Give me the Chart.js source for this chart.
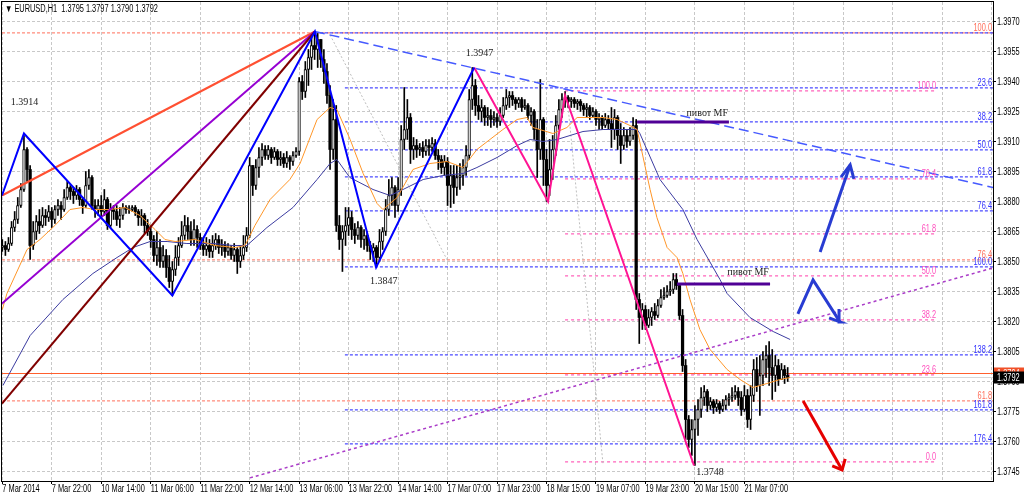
<!DOCTYPE html>
<html>
<head>
<meta charset="utf-8">
<script src="https://cdn.jsdelivr.net/npm/chart.js@4.4.1/dist/chart.umd.min.js"></script>
<style>
  html, body { margin: 0; padding: 0; background: #fff; }
  #wrap { width: 1024px; height: 495px; }
</style>
</head>
<body>
<div id="wrap"><canvas id="chart1" width="1024" height="495"></canvas></div>
<script>
// EURUSD H1, one entry per bar (bar 0 = 7 Mar 2014 06:00)
var firstOpen = 1.3857;
var closes = [
  1.3858,1.3856,1.3859,1.3867,1.3871,1.3878,1.3886,1.3906,1.3896,1.3858,
  1.3865,1.3870,1.3868,1.3873,1.3872,1.3875,1.3871,1.3876,1.3878,1.3876,
  1.3882,1.3887,1.3885,1.3883,1.3886,1.3881,1.3878,1.3888,1.3892,1.3878,
  1.3876,1.3878,1.3875,1.3881,1.3868,1.3876,1.3875,1.3871,1.3873,1.3877,
  1.3876,1.3876,1.3877,1.3875,1.3872,1.3873,1.3868,1.3865,1.3861,1.3853,
  1.3857,1.3850,1.3853,1.3847,1.3840,1.3846,1.3852,1.3858,1.3863,1.3868,
  1.3865,1.3861,1.3866,1.3862,1.3858,1.3856,1.3858,1.3855,1.3858,1.3861,
  1.3857,1.3858,1.3855,1.3857,1.3853,1.3856,1.3850,1.3853,1.3857,1.3863,
  1.3898,1.3888,1.3897,1.3902,1.3906,1.3903,1.3906,1.3902,1.3905,1.3901,
  1.3902,1.3899,1.3902,1.3900,1.3903,1.3905,1.3940,1.3935,1.3946,1.3952,
  1.3958,1.3956,1.3961,1.3951,1.3945,1.3933,1.3906,1.3921,1.3868,1.3861,
  1.3865,1.3868,1.3872,1.3866,1.3863,1.3867,1.3861,1.3863,1.3858,1.3855,
  1.3857,1.3852,1.3860,1.3865,1.3876,1.3883,1.3887,1.3878,1.3886,1.3911,
  1.3916,1.3922,1.3906,1.3908,1.3906,1.3907,1.3905,1.3908,1.3907,1.3909,
  1.3903,1.3901,1.3897,1.3900,1.3888,1.3893,1.3887,1.3892,1.3893,1.3897,
  1.3903,1.3931,1.3938,1.3928,1.3925,1.3927,1.3922,1.3923,1.3921,1.3922,
  1.3920,1.3923,1.3928,1.3932,1.3933,1.3931,1.3929,1.3931,1.3927,1.3928,
  1.3923,1.3925,1.3916,1.3906,1.3921,1.3901,1.3888,1.3896,1.3906,1.3918,
  1.3926,1.3931,1.3932,1.3930,1.3931,1.3929,1.3930,1.3928,1.3926,1.3927,
  1.3923,1.3925,1.3921,1.3922,1.3918,1.3921,1.3919,1.3916,1.3922,1.3913,
  1.3908,1.3913,1.3910,1.3913,1.3918,1.3831,1.3822,1.3826,1.3818,1.3822,
  1.3825,1.3823,1.3828,1.3832,1.3833,1.3835,1.3836,1.3841,1.3838,1.3823,
  1.3798,1.3771,1.3761,1.3766,1.3771,1.3776,1.3782,1.3785,1.3778,1.3780,
  1.3777,1.3779,1.3776,1.3778,1.3781,1.3782,1.3783,1.3785,1.3782,1.3776,
  1.3783,1.3771,1.3783,1.3796,1.3788,1.3793,1.3801,1.3803,1.3797,1.3793,
  1.3798,1.3791,1.3796,1.3793,1.3792
];
var highs = [
  1.3861,1.3860,1.3862,1.3870,1.3875,1.3882,1.3889,1.3913,1.3907,1.3898,
  1.3870,1.3873,1.3876,1.3877,1.3876,1.3878,1.3877,1.3878,1.3881,1.3880,
  1.3886,1.3890,1.3888,1.3887,1.3888,1.3887,1.3882,1.3895,1.3896,1.3893,
  1.3881,1.3881,1.3883,1.3886,1.3882,1.3879,1.3878,1.3878,1.3877,1.3879,
  1.3878,1.3878,1.3878,1.3878,1.3876,1.3876,1.3874,1.3871,1.3868,1.3863,
  1.3865,1.3861,1.3858,1.3856,1.3853,1.3850,1.3858,1.3862,1.3870,1.3873,
  1.3872,1.3870,1.3871,1.3868,1.3864,1.3862,1.3862,1.3861,1.3863,1.3864,
  1.3863,1.3861,1.3860,1.3859,1.3858,1.3859,1.3857,1.3858,1.3863,1.3867,
  1.3902,1.3897,1.3901,1.3907,1.3909,1.3908,1.3908,1.3907,1.3907,1.3906,
  1.3905,1.3904,1.3905,1.3903,1.3905,1.3907,1.3942,1.3943,1.3950,1.3956,
  1.3962,1.3965,1.3964,1.3958,1.3956,1.3949,1.3938,1.3931,1.3928,1.3873,
  1.3868,1.3877,1.3877,1.3875,1.3869,1.3870,1.3868,1.3866,1.3865,1.3860,
  1.3859,1.3858,1.3866,1.3867,1.3881,1.3891,1.3892,1.3888,1.3892,1.3918,
  1.3937,1.3931,1.3924,1.3912,1.3911,1.3909,1.3910,1.3911,1.3911,1.3912,
  1.3911,1.3906,1.3903,1.3903,1.3902,1.3898,1.3898,1.3898,1.3899,1.3901,
  1.3908,1.3936,1.3947,1.3941,1.3933,1.3931,1.3928,1.3927,1.3926,1.3925,
  1.3924,1.3927,1.3932,1.3936,1.3935,1.3935,1.3932,1.3932,1.3932,1.3931,
  1.3929,1.3927,1.3926,1.3921,1.3941,1.3922,1.3906,1.3911,1.3913,1.3923,
  1.3931,1.3934,1.3935,1.3933,1.3932,1.3932,1.3931,1.3931,1.3929,1.3929,
  1.3928,1.3927,1.3926,1.3924,1.3923,1.3924,1.3923,1.3927,1.3926,1.3923,
  1.3919,1.3917,1.3916,1.3917,1.3922,1.3921,1.3834,1.3829,1.3828,1.3826,
  1.3827,1.3829,1.3831,1.3836,1.3837,1.3838,1.3840,1.3844,1.3844,1.3838,
  1.3826,1.3801,1.3773,1.3771,1.3778,1.3781,1.3787,1.3788,1.3786,1.3782,
  1.3781,1.3781,1.3780,1.3781,1.3783,1.3784,1.3787,1.3788,1.3787,1.3785,
  1.3788,1.3786,1.3788,1.3801,1.3802,1.3803,1.3805,1.3808,1.3810,1.3806,
  1.3803,1.3801,1.3799,1.3798,1.3797
];
var lows = [
  1.3855,1.3853,1.3855,1.3858,1.3865,1.3869,1.3877,1.3885,1.3890,1.3851,
  1.3856,1.3861,1.3864,1.3867,1.3868,1.3870,1.3867,1.3869,1.3873,1.3871,
  1.3875,1.3881,1.3881,1.3879,1.3881,1.3878,1.3874,1.3877,1.3886,1.3876,
  1.3872,1.3873,1.3872,1.3873,1.3866,1.3867,1.3871,1.3868,1.3867,1.3871,
  1.3874,1.3874,1.3875,1.3873,1.3868,1.3868,1.3864,1.3863,1.3857,1.3850,
  1.3848,1.3847,1.3847,1.3842,1.3837,1.3833,1.3843,1.3848,1.3857,1.3861,
  1.3861,1.3858,1.3858,1.3857,1.3856,1.3853,1.3853,1.3852,1.3852,1.3856,
  1.3854,1.3853,1.3852,1.3853,1.3851,1.3850,1.3844,1.3847,1.3851,1.3855,
  1.3862,1.3883,1.3886,1.3892,1.3898,1.3901,1.3901,1.3899,1.3901,1.3898,
  1.3898,1.3897,1.3897,1.3896,1.3898,1.3902,1.3903,1.3931,1.3932,1.3938,
  1.3946,1.3951,1.3947,1.3947,1.3939,1.3929,1.3896,1.3901,1.3865,1.3856,
  1.3845,1.3858,1.3863,1.3861,1.3859,1.3861,1.3857,1.3856,1.3855,1.3851,
  1.3850,1.3848,1.3850,1.3856,1.3863,1.3873,1.3878,1.3872,1.3875,1.3883,
  1.3906,1.3911,1.3899,1.3901,1.3902,1.3903,1.3902,1.3903,1.3903,1.3905,
  1.3901,1.3896,1.3894,1.3893,1.3878,1.3877,1.3879,1.3883,1.3886,1.3888,
  1.3893,1.3901,1.3926,1.3923,1.3921,1.3920,1.3918,1.3918,1.3917,1.3918,
  1.3917,1.3918,1.3922,1.3926,1.3927,1.3928,1.3926,1.3927,1.3925,1.3926,
  1.3921,1.3918,1.3911,1.3892,1.3901,1.3888,1.3880,1.3883,1.3891,1.3903,
  1.3916,1.3922,1.3927,1.3927,1.3927,1.3927,1.3926,1.3925,1.3923,1.3922,
  1.3921,1.3922,1.3918,1.3916,1.3916,1.3917,1.3916,1.3907,1.3911,1.3906,
  1.3899,1.3906,1.3907,1.3908,1.3911,1.3826,1.3809,1.3816,1.3816,1.3817,
  1.3818,1.3821,1.3822,1.3827,1.3831,1.3832,1.3833,1.3834,1.3836,1.3821,
  1.3795,1.3761,1.3757,1.3753,1.3748,1.3763,1.3772,1.3778,1.3775,1.3776,
  1.3774,1.3775,1.3774,1.3775,1.3776,1.3778,1.3780,1.3781,1.3778,1.3773,
  1.3775,1.3767,1.3766,1.3780,1.3785,1.3773,1.3788,1.3792,1.3788,1.3781,
  1.3785,1.3788,1.3791,1.3789,1.3790
];

// moving averages: [bar, price]
var maFast = [
  [0,1.3826],[1.5,1.3834],[8,1.3856],[12.2,1.3861],[17,1.3868],[21.9,1.3876],[26.1,1.3877],
  [30,1.3876],[34.8,1.3876],[39.7,1.3877],[44.5,1.3873],[49.4,1.3866],[52.6,1.3861],
  [55.9,1.3860],[62.3,1.3861],[68.8,1.3858],[75.3,1.3857],[78.5,1.3858],[81.7,1.3868],
  [86.6,1.3881],[93,1.3891],[96.3,1.3899],[101.8,1.3921],[106,1.3927],[108.2,1.3926],
  [112.5,1.3911],[116.7,1.3894],[121.2,1.3879],[123.1,1.3876],[127.7,1.3882],[132.8,1.3896],
  [138.3,1.3899],[143.8,1.3900],[149,1.3897],[153.5,1.3906],[157.7,1.3911],[161.9,1.3916],
  [166.5,1.3921],[169.7,1.3922],[171.6,1.3917],[178.1,1.3914],[182.6,1.3917],[185.9,1.3922],
  [190.1,1.3922],[194.3,1.3922],[198.8,1.3921],[203,1.3918],[205.3,1.3916],[209.5,1.3886],
  [211.7,1.3872],[215,1.3857],[218.2,1.3852],[220.1,1.3844],[222.4,1.3831],[225.6,1.3816],
  [228.9,1.3806],[234.4,1.3796],[238.6,1.3791],[242.8,1.3787],[247.3,1.3789],[251.5,1.3791],
  [254.8,1.3792]
];
var maSlow = [
  [0.2,1.3788],[9,1.3813],[19.6,1.3831],[29.3,1.3844],[37.1,1.3852],[42.3,1.3857],
  [47.8,1.3860],[53.3,1.3860],[59.7,1.3859],[68.1,1.3859],[74.6,1.3858],[79.1,1.3858],
  [85.6,1.3867],[94,1.3877],[101.8,1.3891],[106,1.3899],[108.2,1.3901],[112.4,1.3892],
  [119.9,1.3886],[125.4,1.3883],[129.6,1.3886],[136.1,1.3891],[142.5,1.3893],[149,1.3894],
  [153.5,1.3897],[160,1.3902],[166.5,1.3908],[170.7,1.3911],[174.9,1.3910],[179.4,1.3911],
  [183.6,1.3913],[187.8,1.3915],[194.3,1.3916],[200.7,1.3916],[205.3,1.3916],[206.2,1.3914],
  [212.7,1.3891],[220.1,1.3876],[224.7,1.3861],[232.1,1.3841],[234.4,1.3834],[241.8,1.3822],
  [249.3,1.3815],[254.8,1.3811]
];

// zigzags and fan lines: [bar, price]
var zigzagBlue = [[-0.1,1.3883],[7,1.3914],[55,1.3833],[101.1,1.3965],[120.9,1.3847],[152.6,1.3947]];
var zigzagPink = [[152.6,1.3947],[176.5,1.3880],[182,1.3933],[223.7,1.3748]];
var fanRed = [[-0.1,1.3883],[101.1,1.3965]];
var fanPurple = [[-0.1,1.3829],[101.1,1.3965]];
var fanBrown = [[-0.1,1.3779],[101.1,1.3965]];
var trendDown = [[101.1,1.3965],[320.4,1.3887]];
var trendUp = [[80.1,1.37418],[320.4,1.38468]];
var timeLine1 = [[106,1.39633],[144.2,1.38498]];
var timeLine2 = [[182.6,1.39333],[194.3,1.37483]];

// fibonacci levels
var fibRedLevels = ['100.0','76.4','61.8'];
var fibRedPrices = [1.39643,1.38508,1.37803];
var fibBlueLevels = ['0.0','23.6','38.2','50.0','61.8','76.4','100.0','138.2','161.8','176.4'];
var fibBluePrices = [1.39643,1.39368,1.39198,1.39058,1.38923,1.38753,1.38473,1.38033,1.37758,1.37588];
var fibBlueFrom = [101.1,110.8,110.8,110.8,110.8,110.8,110.8,110.8,110.8,110.8];
var fibPinkLevels = ['100.0','76.4','61.8','50.0','38.2','23.6','0.0'];
var fibPinkPrices = [1.39353,1.38913,1.38638,1.38428,1.38208,1.37933,1.37498];

var pivot1 = [[205.3,1.39198],[235,1.39198]];
var pivot2 = [[218.2,1.38388],[248.3,1.38388]];

// hand drawn arrows
var arrowUpShaft = [[264.5,1.38548],[274.2,1.38983]];
var arrowUpHead = [[271.3,1.38923],[274.2,1.38983],[275.4,1.38913]];
var arrowZig = [[257.3,1.38238],[262.2,1.38408],[270.9,1.38198]];
var arrowZigHead = [[267.4,1.38218],[270.9,1.38198],[270.6,1.38263]];
var arrowDownShaft = [[259,1.37803],[271.6,1.37458]];
var arrowDownHead = [[268.4,1.37478],[271.6,1.37458],[272.6,1.37513]];

var levelAlert = 1.3794;
var bid = 1.3792;

var notes = [
  {text: '1.3914', bar: 7.2, price: 1.39298},
  {text: '1.3947', bar: 154.3, price: 1.39543},
  {text: '1.3847', bar: 123.4, price: 1.38403},
  {text: '1.3748', bar: 228.9, price: 1.37448},
  {text: 'пивот MF', bar: 228, price: 1.39243},
  {text: 'пивот MF', bar: 241.2, price: 1.38448}
];

var xTickBars = [0,16,32,48,64,80,96,112,128,144,160,176,192,208,224,240,256,272,288,304,320];
var xTickLabels = ['7 Mar 2014','7 Mar 22:00','10 Mar 14:00','11 Mar 06:00','11 Mar 22:00',
  '12 Mar 14:00','13 Mar 06:00','13 Mar 22:00','14 Mar 14:00','17 Mar 07:00','17 Mar 23:00',
  '18 Mar 15:00','19 Mar 07:00','19 Mar 23:00','20 Mar 15:00','21 Mar 07:00'];
var yTicks = [1.3745,1.3760,1.3775,1.3790,1.3805,1.3820,1.3835,1.3850,1.3865,1.3880,
  1.3895,1.3910,1.3925,1.3940,1.3955,1.3970];

var header = '\u25BC EURUSD,H1  1.3795 1.3797 1.3790 1.3792';

var uiFont = "10px 'Liberation Sans', Arial, sans-serif";
var squeeze = 0.74;

function pts(arr) {
  return arr.map(function(p) { return {x: p[0], y: p[1]}; });
}

function lineDs(arr, color, width, dash, order) {
  return {
    type: 'line',
    data: pts(arr),
    borderColor: color,
    borderWidth: width,
    borderDash: dash || [],
    pointRadius: 0,
    fill: false,
    tension: 0,
    clip: 0,
    order: order
  };
}

// narrow terminal-style text
function narrowText(ctx, text, x, y, align) {
  ctx.save();
  ctx.translate(x, y);
  ctx.scale(squeeze, 1);
  ctx.textAlign = align;
  ctx.fillText(text, 0, 0);
  ctx.restore();
}

// candles
var wicks = [], bulls = [], bears = [];
for (var i = 0; i < closes.length; i++) {
  var o = i == 0 ? firstOpen : closes[i - 1];
  var c = closes[i];
  wicks.push({x: i, y: [Math.min(lows[i], o, c), Math.max(highs[i], o, c)]});
  if (c >= o) bulls.push({x: i, y: [o, c]});
  else bears.push({x: i, y: [c, o]});
}

var datasets = [];

fibRedPrices.forEach(function(p) {
  datasets.push(lineDs([[-0.1, p], [320.4, p]], 'rgb(255,110,90)', 1, [3, 2], 60));
});
fibBluePrices.forEach(function(p, k) {
  datasets.push(lineDs([[fibBlueFrom[k], p], [320.4, p]], 'rgb(30,30,255)', 1, [3, 2], 58));
});
fibPinkPrices.forEach(function(p) {
  datasets.push(lineDs([[182, p], [302.3, p]], 'rgb(255,60,170)', 1, [3, 3], 58));
});
datasets.push(lineDs([[-0.1, levelAlert], [320.4, levelAlert]], 'rgb(255,95,45)', 1, [], 56));
datasets.push(lineDs([[-0.1, bid], [320.4, bid]], 'rgb(215,215,215)', 1, [], 57));
datasets.push(lineDs(timeLine1, 'rgb(190,190,190)', 1, [2, 2], 56));
datasets.push(lineDs(timeLine2, 'rgb(190,190,190)', 1, [2, 2], 56));

datasets.push({type: 'bar', data: wicks, backgroundColor: '#000', borderWidth: 0,
  barThickness: 1, grouped: false, order: 50});
datasets.push({type: 'bar', data: bulls, backgroundColor: '#fff', borderColor: '#000',
  borderWidth: 1, borderSkipped: false, barThickness: 2.6, minBarLength: 1, grouped: false, order: 49});
datasets.push({type: 'bar', data: bears, backgroundColor: '#000', borderColor: '#000',
  borderWidth: 0, barThickness: 2.6, minBarLength: 1, grouped: false, order: 49});

datasets.push(lineDs(maSlow, 'rgb(60,60,160)', 1, [], 30));
datasets.push(lineDs(maFast, 'rgb(255,150,40)', 1, [], 29));

datasets.push(lineDs(trendUp, 'rgb(170,60,200)', 1.5, [3, 3], 20));
datasets.push(lineDs(trendDown, 'rgb(70,90,255)', 1.5, [10, 5], 20));
datasets.push(lineDs(fanBrown, 'rgb(128,0,0)', 2, [], 15));
datasets.push(lineDs(fanPurple, 'rgb(150,0,210)', 2, [], 15));
datasets.push(lineDs(fanRed, 'rgb(255,80,50)', 2, [], 15));
datasets.push(lineDs(zigzagBlue, 'rgb(0,0,255)', 2, [], 10));
datasets.push(lineDs(zigzagPink, 'rgb(255,20,147)', 2, [], 10));

datasets.push(lineDs(pivot1, 'rgb(80,0,150)', 3, [], 5));
datasets.push(lineDs(pivot2, 'rgb(80,0,150)', 3, [], 5));
datasets.push(lineDs(arrowUpShaft, 'rgb(40,60,210)', 3, [], 4));
datasets.push(lineDs(arrowUpHead, 'rgb(40,60,210)', 3, [], 4));
datasets.push(lineDs(arrowZig, 'rgb(40,60,210)', 3, [], 4));
datasets.push(lineDs(arrowZigHead, 'rgb(40,60,210)', 3, [], 4));
datasets.push(lineDs(arrowDownShaft, 'rgb(230,0,0)', 3, [], 4));
datasets.push(lineDs(arrowDownHead, 'rgb(230,0,0)', 3, [], 4));

var overlay = {
  id: 'overlay',
  afterDatasetsDraw: function(chart) {
    var ctx = chart.ctx, xs = chart.scales.x, ys = chart.scales.y, a = chart.chartArea;
    ctx.save();
    ctx.beginPath();
    ctx.rect(a.left, a.top, a.right - a.left, a.bottom - a.top);
    ctx.clip();

    ctx.font = uiFont;
    ctx.textBaseline = 'alphabetic';
    fibBluePrices.forEach(function(p, k) {
      if (k == 0) return;
      ctx.fillStyle = 'rgb(50,50,255)';
      narrowText(ctx, fibBlueLevels[k], a.right - 1, ys.getPixelForValue(p) - 2, 'right');
    });
    fibRedPrices.forEach(function(p, k) {
      ctx.fillStyle = 'rgb(255,110,90)';
      narrowText(ctx, fibRedLevels[k], a.right - 1, ys.getPixelForValue(p) - 2, 'right');
    });
    fibPinkPrices.forEach(function(p, k) {
      ctx.fillStyle = 'rgb(255,80,190)';
      narrowText(ctx, fibPinkLevels[k], xs.getPixelForValue(302.3) - 1, ys.getPixelForValue(p) - 2, 'right');
    });

    ctx.font = "10px 'Liberation Serif', serif";
    ctx.textAlign = 'center';
    ctx.textBaseline = 'middle';
    ctx.fillStyle = '#222';
    notes.forEach(function(n) {
      ctx.fillText(n.text, xs.getPixelForValue(n.bar), ys.getPixelForValue(n.price));
    });
    ctx.restore();
  },
  afterDraw: function(chart) {
    var ctx = chart.ctx, xs = chart.scales.x, ys = chart.scales.y, a = chart.chartArea;
    ctx.save();
    ctx.strokeStyle = '#000';
    ctx.lineWidth = 1;
    ctx.strokeRect(Math.round(a.left) - 0.5, Math.round(a.top) - 0.5,
      Math.round(a.right - a.left) + 1, Math.round(a.bottom - a.top) + 1);

    ctx.font = uiFont;
    ctx.fillStyle = '#000';
    ctx.textBaseline = 'alphabetic';
    narrowText(ctx, header, a.left + 3, a.top + 10, 'left');

    // axis labels
    xTickLabels.forEach(function(t, k) {
      narrowText(ctx, t, xs.getPixelForValue(xTickBars[k]), 492, 'left');
    });
    ctx.textBaseline = 'middle';
    yTicks.forEach(function(v) {
      narrowText(ctx, v.toFixed(4), a.right + 4, ys.getPixelForValue(v) + 1, 'left');
    });

    var yA = ys.getPixelForValue(levelAlert);
    ctx.fillStyle = 'rgb(240,80,40)';
    ctx.fillRect(a.right + 1, yA - 6, 1024 - a.right, 12);
    ctx.fillStyle = '#fff';
    narrowText(ctx, levelAlert.toFixed(4), a.right + 4, yA + 1, 'left');
    var yB = ys.getPixelForValue(bid);
    ctx.fillStyle = '#000';
    ctx.fillRect(a.right + 1, yB - 6, 1024 - a.right, 12);
    ctx.fillStyle = '#fff';
    narrowText(ctx, bid.toFixed(4), a.right + 4, yB + 1, 'left');
    ctx.restore();
  }
};

var ctx = document.getElementById('chart1').getContext('2d');
var chart = new Chart(ctx, {
  type: 'bar',
  data: { datasets: datasets },
  options: {
    responsive: false,
    animation: false,
    devicePixelRatio: 1,
    events: [],
    layout: { padding: { left: 2, top: 2, right: 0, bottom: 0 } },
    plugins: { legend: { display: false }, tooltip: { enabled: false } },
    scales: {
      x: {
        type: 'linear',
        min: -0.097,
        max: 320.4,
        offset: false,
        afterBuildTicks: function(s) { s.ticks = xTickBars.map(function(v) { return {value: v}; }); },
        afterFit: function(s) { s.height = 14; },
        grid: {
          offset: false,
          color: 'rgb(200,200,200)',
          tickColor: function(c) { return c.index < xTickLabels.length ? '#000' : 'rgba(0,0,0,0)'; },
          tickLength: 3
        },
        border: { display: true, color: '#000', dash: [3, 2] },
        ticks: { display: false }
      },
      y: {
        type: 'linear',
        position: 'right',
        min: 1.374025,
        max: 1.397975,
        beginAtZero: false,
        afterBuildTicks: function(s) { s.ticks = yTicks.map(function(v) { return {value: v}; }); },
        afterFit: function(s) { s.width = 31; },
        grid: { color: 'rgb(200,200,200)', tickColor: '#000', tickLength: 3 },
        border: { display: true, color: '#000', dash: [3, 2] },
        ticks: { display: false }
      }
    }
  },
  plugins: [overlay]
});
</script>
</body>
</html>
